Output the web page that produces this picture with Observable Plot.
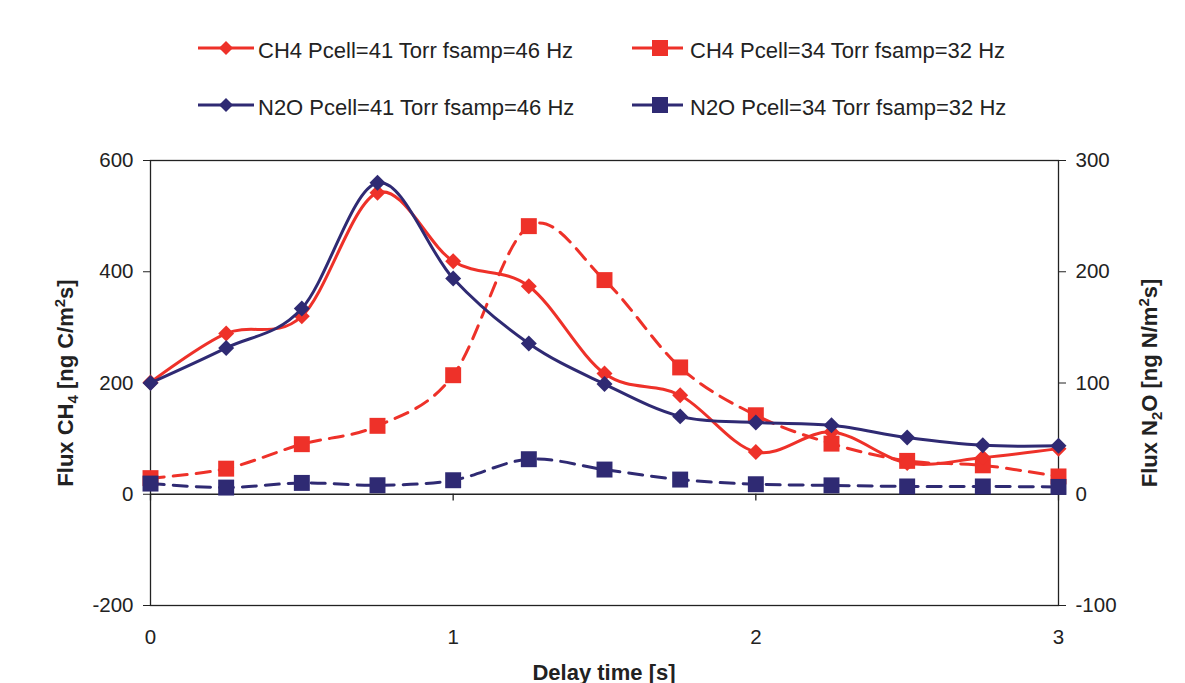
<!DOCTYPE html>
<html>
<head>
<meta charset="utf-8">
<script src="https://cdn.jsdelivr.net/npm/d3@7"></script>
<script src="https://cdn.jsdelivr.net/npm/@observablehq/plot@0.6"></script>
<style>
  html, body { margin: 0; padding: 0; background: #fff; overflow: hidden; }
  #wrap { position: relative; width: 1185px; height: 683px; font-family: "Liberation Sans", Arial, sans-serif; color: #222; }
  #chart { position: absolute; left: 0; top: 0; }
  .ttl { position: absolute; font-weight: bold; font-size: 22px; white-space: nowrap; color: #222; }
  .rot { transform: translate(-50%, -50%) rotate(-90deg); }
  .ttl sub, .ttl sup { font-size: 0.68em; line-height: 0; }
  .leg { position: absolute; display: flex; align-items: center; font-size: 22px; white-space: nowrap; color: #222; }
  .leg svg { display: block; }
</style>
</head>
<body>
<div id="wrap">
  <div id="chart"></div>
</div>
<script>
// ---- data ----
const delay = [0, 0.25, 0.5, 0.75, 1, 1.25, 1.5, 1.75, 2, 2.25, 2.5, 2.75, 3];
const ch4_41 = [201, 289, 320, 542, 419, 374, 217, 178, 76, 112, 56, 66, 82];
const ch4_34 = [29, 46, 90, 123, 214, 482, 385, 228, 142, 91, 60, 52, 32];
const n2o_41 = [100, 131.5, 167, 280, 194, 135.5, 99, 70, 64.5, 62, 51, 44, 43.5];
const n2o_34 = [9.6, 6, 10.2, 8.1, 12.6, 31.5, 22.2, 13.2, 9, 8, 7, 7, 6.6];
const seriesNames = [
  "CH4 Pcell=41 Torr fsamp=46 Hz",
  "CH4 Pcell=34 Torr fsamp=32 Hz",
  "N2O Pcell=41 Torr fsamp=46 Hz",
  "N2O Pcell=34 Torr fsamp=32 Hz"
];
const leftTicks = [-200, 0, 200, 400, 600];
const rightTicks = [-100, 0, 100, 200, 300];
const xTicks = [0, 1, 2, 3];

const RED = "#ee3129";
const NAVY = "#2f2a73";

const rows = (vals, scale) => delay.map((x, i) => ({x, y: vals[i] * scale}));
const dCH4a = rows(ch4_41, 1);
const dCH4b = rows(ch4_34, 1);
const dN2Oa = rows(n2o_41, 2); // right axis = left / 2
const dN2Ob = rows(n2o_34, 2);

const curve = d3.curveCardinal.tension(0);

const chart = Plot.plot({
  width: 1185,
  height: 683,
  marginLeft: 150,
  marginRight: 127,
  marginTop: 160,
  marginBottom: 78,
  style: {fontFamily: "Liberation Sans, Arial, sans-serif", fontSize: "20px", color: "#222", background: "#fff"},
  x: {domain: [0, 3]},
  y: {domain: [-200, 600]},
  marks: [
    Plot.frame({stroke: "#222", strokeWidth: 1.3}),
    Plot.ruleY([0], {stroke: "#222", strokeWidth: 1.3}),
    Plot.ruleX(xTicks, {y1: 0, y2: -12, stroke: "#222", strokeWidth: 1.3}),
    Plot.axisY(leftTicks, {anchor: "left", tickSize: 7, tickPadding: 10, label: null, fontSize: 20.5, stroke: "#222", tickFormat: d => String(d)}),
    Plot.axisY(rightTicks.map(d => d * 2), {anchor: "right", tickSize: 7, tickPadding: 10, label: null, fontSize: 20.5, tickFormat: d => String(d / 2), stroke: "#222"}),
    Plot.axisX(xTicks, {anchor: "bottom", tickSize: 0, tickPadding: 24, label: null, fontSize: 20.5, tickFormat: d => String(d)}),
    // red series
    Plot.line(dCH4b, {x: "x", y: "y", stroke: RED, strokeWidth: 3, strokeDasharray: "14,9", curve}),
    Plot.line(dCH4a, {x: "x", y: "y", stroke: RED, strokeWidth: 3, curve}),
    Plot.dot(dCH4b, {x: "x", y: "y", symbol: "square", r: 9, fill: RED}),
    Plot.dot(dCH4a, {x: "x", y: "y", symbol: "diamond2", r: 7.2, fill: RED}),
    // navy series
    Plot.line(dN2Ob, {x: "x", y: "y", stroke: NAVY, strokeWidth: 3, strokeDasharray: "14,9", curve}),
    Plot.line(dN2Oa, {x: "x", y: "y", stroke: NAVY, strokeWidth: 3, curve}),
    Plot.dot(dN2Ob, {x: "x", y: "y", symbol: "square", r: 9, fill: NAVY}),
    Plot.dot(dN2Oa, {x: "x", y: "y", symbol: "diamond2", r: 7.2, fill: NAVY})
  ]
});
document.getElementById("chart").appendChild(chart);

const wrap = document.getElementById("wrap");

// legend
const legendItems = [
  {name: seriesNames[0], color: RED, sym: "diamond", left: 198, cy: 48},
  {name: seriesNames[1], color: RED, sym: "square", left: 632, cy: 48},
  {name: seriesNames[2], color: NAVY, sym: "diamond", left: 198, cy: 105},
  {name: seriesNames[3], color: NAVY, sym: "square", left: 632, cy: 105}
];
for (const it of legendItems) {
  const div = document.createElement("div");
  div.className = "leg";
  div.style.left = it.left + "px";
  div.style.top = (it.cy - 12) + "px";
  div.style.height = "24px";
  const w = it.sym === "diamond" ? 56 : 51;
  const cx = 28;
  const marker = it.sym === "diamond"
    ? `<path d="M${cx},5 L${cx + 7},12 L${cx},19 L${cx - 7},12Z" fill="${it.color}"/>`
    : `<rect x="${cx - 8}" y="4" width="16" height="16" fill="${it.color}"/>`;
  div.innerHTML = `<svg width="${w}" height="24"><line x1="0" x2="${w}" y1="12" y2="12" stroke="${it.color}" stroke-width="3"/>${marker}</svg><span style="margin-left:${it.sym === "diamond" ? 4 : 7}px;position:relative;top:3px">${it.name}</span>`;
  wrap.appendChild(div);
}

// axis titles
const lt = document.createElement("div");
lt.className = "ttl rot";
lt.style.left = "66px"; lt.style.top = "383px";
lt.innerHTML = "Flux CH<sub>4</sub> [ng C/m<sup>2</sup>s]";
wrap.appendChild(lt);

const rt = document.createElement("div");
rt.className = "ttl rot";
rt.style.left = "1150px"; rt.style.top = "383px";
rt.innerHTML = "Flux N<sub>2</sub>O [ng N/m<sup>2</sup>s]";
wrap.appendChild(rt);

const xt = document.createElement("div");
xt.className = "ttl";
xt.style.left = "604px"; xt.style.top = "662px";
xt.style.transform = "translateX(-50%)";
xt.style.lineHeight = "21px";
xt.textContent = "Delay time [s]";
wrap.appendChild(xt);
</script>
</body>
</html>
